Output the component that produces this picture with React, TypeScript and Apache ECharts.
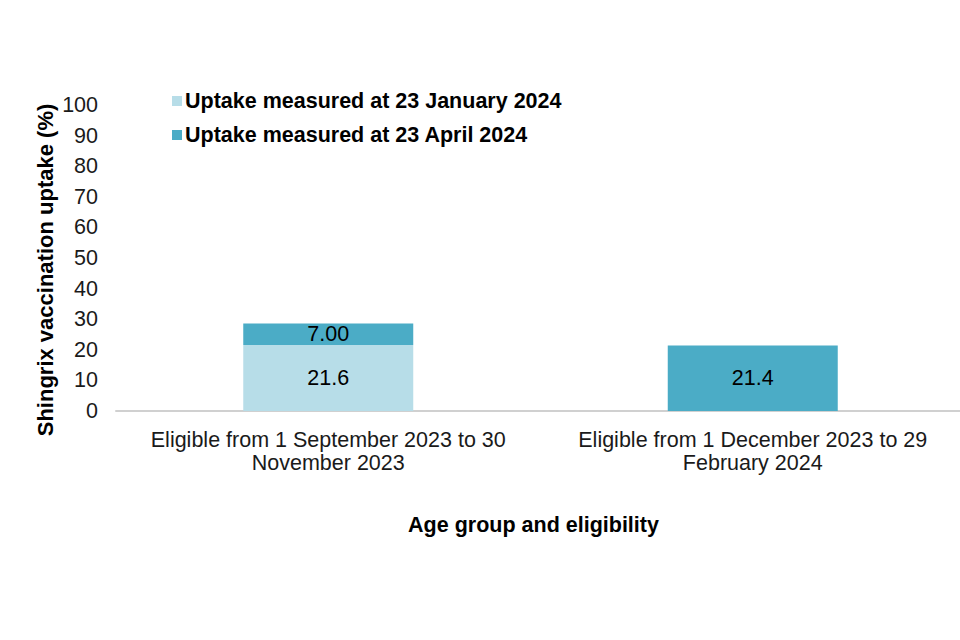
import React, { useEffect, useRef } from "react";
import * as echarts from "echarts";

const categories = [
  "Eligible from 1 September 2023 to 30\nNovember 2023",
  "Eligible from 1 December 2023 to 29\nFebruary 2024",
];
const seriesNames = ["Uptake measured at 23 January 2024", "Uptake measured at 23 April 2024"];
const januaryValues: (number | null)[] = [21.6, null];
const aprilValues: number[] = [7.0, 21.4];
const aprilLabels = ["7.00", "21.4"];
const yAxisTitle = "Shingrix vaccination uptake (%)";
const xAxisTitle = "Age group and eligibility";

export default function App() {
  const ref = useRef<HTMLDivElement>(null);
  useEffect(() => {
    document.body.style.margin = "0";
    document.body.style.overflow = "hidden";
    if (!ref.current) return;
    const chart = echarts.init(ref.current, null, { renderer: "svg" });
    const font = "Liberation Sans, Arial, sans-serif";
    chart.setOption({
      animation: false,
      textStyle: { fontFamily: font },
      legend: {
        orient: "vertical",
        left: 167,
        top: 85,
        itemGap: 12,
        itemWidth: 10,
        itemHeight: 10,
        icon: "rect",
        textStyle: { fontFamily: font, fontSize: 21.5, fontWeight: "bold", color: "#000", padding: [0, 0, 0, -2] },
        data: seriesNames,
      },
      graphic: [
        {
          type: "text",
          x: 45,
          y: 270,
          rotation: Math.PI / 2,
          style: {
            text: yAxisTitle,
            fontFamily: font,
            fontSize: 22,
            fontWeight: "bold",
            fill: "#000",
            align: "center",
            verticalAlign: "middle",
          },
        },
      ],
      grid: { left: 116, right: 5, top: 105, bottom: 229, containLabel: false },
      xAxis: {
        type: "category",
        data: categories,
        name: xAxisTitle,
        nameLocation: "middle",
        nameGap: 103,
        nameTextStyle: { fontFamily: font, fontSize: 21.5, fontWeight: "bold", color: "#000", padding: [0, 14, 0, 0] },
        axisLine: { lineStyle: { color: "#d0d0d0", width: 2 } },
        axisTick: { show: false },
        axisLabel: { interval: 0, fontFamily: font, fontSize: 21.5, color: "#1a1a1a", lineHeight: 23, margin: 17 },
      },
      yAxis: {
        type: "value",
        min: 0,
        max: 100,
        interval: 10,
        axisLine: { show: false },
        axisTick: { show: false },
        splitLine: { show: false },
        axisLabel: { fontFamily: font, fontSize: 21.5, color: "#1a1a1a", margin: 18 },
      },
      series: [
        {
          name: seriesNames[0],
          type: "bar",
          stack: "total",
          barWidth: 170,
          data: januaryValues,
          itemStyle: { color: "#b7dde8" },
          label: { show: true, position: "inside", fontFamily: font, fontSize: 21.5, color: "#000", formatter: (p: any) => p.value.toFixed(1) },
        },
        {
          name: seriesNames[1],
          type: "bar",
          stack: "total",
          barWidth: 170,
          data: aprilValues,
          itemStyle: { color: "#4bacc6" },
          label: { show: true, position: "inside", fontFamily: font, fontSize: 21.5, color: "#000", formatter: (p: any) => aprilLabels[p.dataIndex] },
        },
      ],
    });
    return () => chart.dispose();
  }, []);
  return <div ref={ref} style={{ width: 970, height: 640 }} />;
}
